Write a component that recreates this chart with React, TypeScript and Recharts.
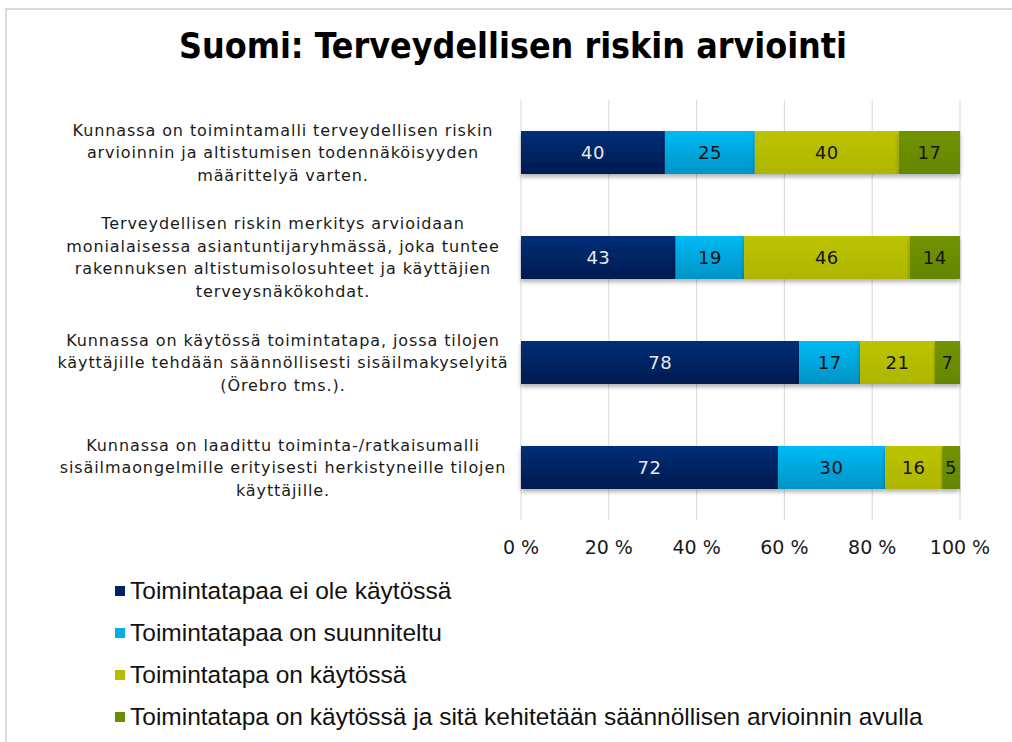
import React from "react";
import { BarChart, Bar, XAxis, YAxis, CartesianGrid, LabelList } from "recharts";

const categories = [
  "Kunnassa on toimintamalli terveydellisen riskin\narvioinnin ja altistumisen todennäköisyyden\nmäärittelyä varten.",
  "Terveydellisen riskin merkitys arvioidaan\nmonialaisessa asiantuntijaryhmässä, joka tuntee\nrakennuksen altistumisolosuhteet ja käyttäjien\nterveysnäkökohdat.",
  "Kunnassa on käytössä toimintatapa, jossa tilojen\nkäyttäjille tehdään säännöllisesti sisäilmakyselyitä\n(Örebro tms.).",
  "Kunnassa on laadittu toiminta-/ratkaisumalli\nsisäilmaongelmille erityisesti herkistyneille tilojen\nkäyttäjille.",
];

const seriesNames = [
  "Toimintatapaa ei ole käytössä",
  "Toimintatapaa on suunniteltu",
  "Toimintatapa on käytössä",
  "Toimintatapa on käytössä ja sitä kehitetään säännöllisen arvioinnin avulla",
];

const notInUse = [40, 43, 78, 72];
const planned = [25, 19, 17, 30];
const inUse = [40, 46, 21, 16];
const inUseDeveloped = [17, 14, 7, 5];

const xTicks = [0, 0.2, 0.4, 0.6, 0.8, 1];

const seriesValues = [notInUse, planned, inUse, inUseDeveloped];
const keys = ["s0", "s1", "s2", "s3"];
const colors = ["#002262", "#00aee8", "#b5bd00", "#6b8e00"];
const gradTop = ["#002f78", "#00baf4", "#bcc400", "#729400"];
const gradBottom = ["#001a50", "#0094c6", "#adb500", "#648600"];
const labelColors = ["#e8e8e8", "#141414", "#141414", "#141414"];

const data = categories.map((name, i) => {
  const row: any = { name };
  keys.forEach((k, j) => {
    row[k] = seriesValues[j][i];
  });
  return row;
});

const catFont = "Verdana, 'DejaVu Sans', sans-serif";

const CategoryTick = (props: any) => {
  const { x, y, payload } = props;
  const lines = String(payload.value).split("\n");
  const lh = 22.5;
  const start = y - ((lines.length - 1) * lh) / 2;
  const cx = x - 230;
  return (
    <text textAnchor="middle" fontFamily={catFont} fontSize={16} letterSpacing={0.9} fill="#1a1a1a">
      {lines.map((l, i) => (
        <tspan key={i} x={cx} y={start + i * lh} dy="0.35em">
          {l}
        </tspan>
      ))}
    </text>
  );
};

const makeLabel = (si: number) => (props: any) => {
  const { x, y, width, height, index } = props;
  const v = seriesValues[si][index];
  return (
    <text
      x={x + width / 2}
      y={y + height / 2}
      dy="0.35em"
      textAnchor="middle"
      fontFamily={catFont}
      fontSize={18}
      letterSpacing={0.5}
      fill={labelColors[si]}
    >
      {v}
    </text>
  );
};

export default function App() {
  return (
    <div style={{ position: "absolute", left: 0, top: 0, width: 1012, height: 742, background: "#fff", overflow: "hidden" }}>
      <div
        style={{
          position: "absolute",
          left: 5,
          top: 8,
          width: 1100,
          height: 800,
          borderTop: "2px solid #d9d9d9",
          borderLeft: "2px solid #d9d9d9",
        }}
      />
      <div
        style={{
          position: "absolute",
          left: 0,
          top: 25,
          width: 1012,
          textAlign: "center",
          fontFamily: "'DejaVu Sans Condensed', 'DejaVu Sans', sans-serif",
          fontWeight: "bold",
          fontSize: 35.5,
          color: "#000",
          paddingLeft: 14,
          boxSizing: "border-box",
        }}
      >
        Suomi: Terveydellisen riskin arviointi
      </div>
      <div style={{ position: "absolute", left: 0, top: 0 }}>
        <BarChart
          width={1012}
          height={742}
          data={data}
          layout="vertical"
          stackOffset="expand"
          barCategoryGap={31}
          margin={{ top: 100, right: 52, bottom: 192, left: 0 }}
        >
          <defs>
            {keys.map((k, i) => (
              <linearGradient key={k} id={`g${i}`} x1="0" y1="0" x2="0" y2="1">
                <stop offset="0%" stopColor={gradTop[i]} />
                <stop offset="100%" stopColor={gradBottom[i]} />
              </linearGradient>
            ))}
            <filter id="shadow" x="-5%" y="-20%" width="110%" height="160%">
              <feDropShadow dx="0" dy="3" stdDeviation="2" floodColor="#000" floodOpacity="0.3" />
            </filter>
          </defs>
          <CartesianGrid horizontal={false} stroke="#d9d9d9" />
          <XAxis
            type="number"
            domain={[0, 1]}
            ticks={xTicks}
            tickFormatter={(v: number) => `${Math.round(v * 100)} %`}
            axisLine={false}
            tickLine={false}
            tickMargin={15}
            tick={{ fontFamily: catFont, fontSize: 19, fill: "#1a1a1a" }}
            interval={0}
          />
          <YAxis
            type="category"
            dataKey="name"
            width={521}
            axisLine={false}
            tickLine={false}
            tick={<CategoryTick />}
            interval={0}
          />
          {keys.map((k, i) => (
            <Bar
              key={k}
              dataKey={k}
              name={seriesNames[i]}
              stackId="a"
              fill={`url(#g${i})`}
              isAnimationActive={false}
              style={{ filter: "url(#shadow)" }}
            >
              <LabelList dataKey={k} content={makeLabel(i)} />
            </Bar>
          ))}
        </BarChart>
      </div>
      <div
        style={{
          position: "absolute",
          left: 115,
          top: 570,
          fontFamily: "'Liberation Sans Narrow', 'Arial Narrow', 'Liberation Sans', sans-serif",
          fontSize: 24.5,
          color: "#111",
        }}
      >
        {seriesNames.map((n, i) => (
          <div key={i} style={{ display: "flex", alignItems: "center", height: 42 }}>
            <span style={{ display: "inline-block", width: 10, height: 10, background: colors[i], marginRight: 5 }} />
            <span>{n}</span>
          </div>
        ))}
      </div>
    </div>
  );
}
